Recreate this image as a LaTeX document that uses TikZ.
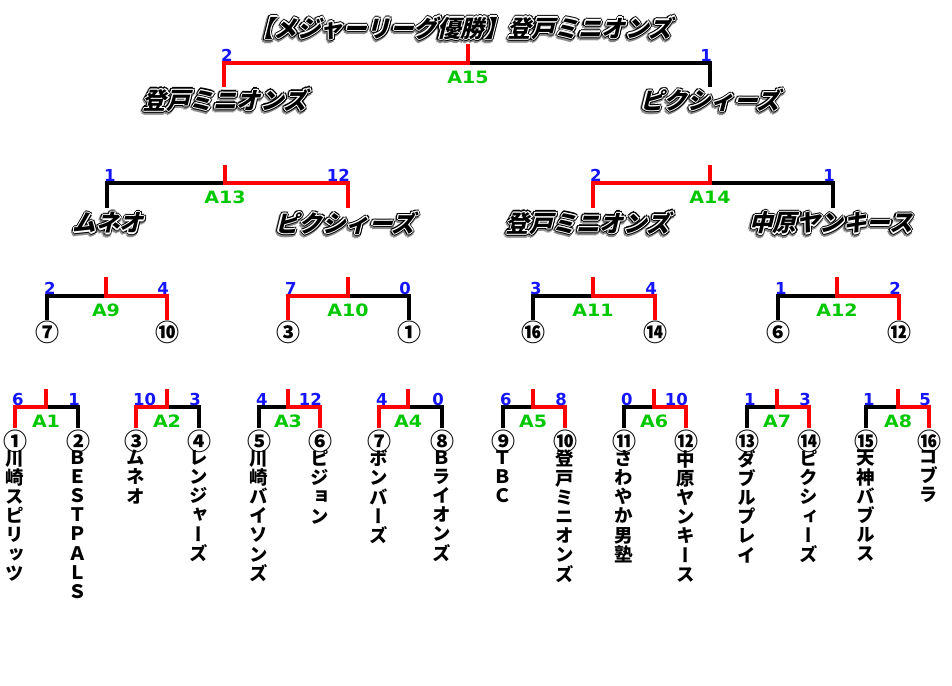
\documentclass[tikz,border=0pt]{standalone}
\usepackage{fontspec}
\usepackage{graphicx}
\newfontfamily\jpfancy[FakeSlant=0.25]{Noto Sans CJK JP}
\newfontfamily\jpv[RawFeature=+vert]{Noto Sans CJK JP}
\newfontfamily\jpc{Noto Sans CJK JP}
\newfontfamily\dvb{DejaVu Sans}
\definecolor{wred}{RGB}{255,0,0}
\definecolor{sblue}{RGB}{20,20,255}
\definecolor{lgreen}{RGB}{0,200,0}
\definecolor{shade}{RGB}{140,140,140}
\newcommand\cpx[3]{\rlap{\kern#1pt\raise#2pt\hbox{\color{#3}\copy0}}}
\newcommand\fancy[1]{{\jpfancy\bfseries\fontsize{23.5}{26}\selectfont
 \setbox0\hbox{#1}%
 \cpx{1.8}{-1.6}{shade}\cpx{-3.4}{-1.6}{shade}\cpx{-0.8}{1.0}{shade}\cpx{-0.8}{-4.2}{shade}%
 \cpx{1.0}{0.2}{shade}\cpx{-2.6}{0.2}{shade}\cpx{1.0}{-3.4}{shade}\cpx{-2.6}{-3.4}{shade}%
 \cpx{2.2}{0}{black}\cpx{-2.2}{0}{black}\cpx{0}{2.2}{black}\cpx{0}{-2.2}{black}%
 \cpx{1.55}{1.55}{black}\cpx{-1.55}{1.55}{black}\cpx{1.55}{-1.55}{black}\cpx{-1.55}{-1.55}{black}%
 \cpx{1.1}{0}{white}\cpx{-1.1}{0}{white}\cpx{0}{1.1}{white}\cpx{0}{-1.1}{white}%
 \cpx{0.78}{0.78}{white}\cpx{-0.78}{0.78}{white}\cpx{0.78}{-0.78}{white}\cpx{-0.78}{-0.78}{white}%
 \hbox{\color{black}\copy0}}}
\tikzset{
 win/.style={draw=wred, line width=3.2pt},
 lose/.style={draw=black, line width=3.2pt},
 score/.style={text=sblue, font=\dvb\bfseries\fontsize{16.5}{16.5}\selectfont, inner sep=0pt},
 mlabel/.style={text=lgreen, font=\dvb\bfseries\fontsize{17}{17}\selectfont, inner sep=0pt},
 circ/.style={font=\jpc\bfseries\fontsize{24}{24}\selectfont, inner sep=0pt},
 vname/.style={font=\jpv\bfseries\fontsize{18.5}{19.2}\selectfont, align=center, inner sep=0pt, anchor=north},
 fname/.style={inner sep=0pt}
}
% #1 id, #2 lx, #3 mx, #4 rx, #5 winner (0 left, 1 right), #6 left score, #7 right score, #8 label
\newcommand\bk[8]{%
 \coordinate (#1t) at (#3,\yt);
 \coordinate (#1m) at (#3,\yl);
 \coordinate (#1l) at (#2,\yl);
 \coordinate (#1r) at (#4,\yl);
 \coordinate (#1lb) at (#2,\yb);
 \coordinate (#1rb) at (#4,\yb);
 \ifnum#5=0
  \draw[lose] (#1m) -- (#1r) -- (#1rb);
  \draw[win] (#1t) -- (#1m) -- (#1l) -- (#1lb);
 \else
  \draw[lose] (#1m) -- (#1l) -- (#1lb);
  \draw[win] (#1t) -- (#1m) -- (#1r) -- (#1rb);
 \fi
 \node[score, anchor=base west] (#1sl) at ({#2-3},{\yl-2}) {#6};
 \node[score, anchor=base east] (#1sr) at ({#4+2},{\yl-2}) {#7};
 \node[mlabel] (#1lab) at (#3,{\yl+14.5}) {\scalebox{1.12}[1]{#8}};
}
\begin{document}
\begin{tikzpicture}[x=1pt,y=-1pt]
\path[fill=white,use as bounding box] (0,0) rectangle (952,685);

% title and final
\node[fname] (title) at (461,29) {\fancy{【メジャーリーグ優勝】登戸ミニオンズ}};
\def\yt{44}\def\yl{63}\def\yb{87}
\bk{a15}{224}{468}{710}{0}{2}{1}{A15}
\node[fname] (f1) at (225,101) {\fancy{登戸ミニオンズ}};
\node[fname] (f2) at (710,101) {\fancy{ピクシィーズ}};

% semi-finals
\def\yt{165}\def\yl{183}\def\yb{208}
\bk{a13}{107}{225}{348}{1}{1}{12}{A13}
\bk{a14}{593}{710}{833}{0}{2}{1}{A14}
\node[fname] (s1) at (108,224) {\fancy{ムネオ}};
\node[fname] (s2) at (345,224) {\fancy{ピクシィーズ}};
\node[fname] (s3) at (588,224) {\fancy{登戸ミニオンズ}};
\node[fname] (s4) at (831,224) {\fancy{中原ヤンキース}};

% quarter-finals
\def\yt{277}\def\yl{296}\def\yb{320}
\bk{a9}{47}{106}{167}{1}{2}{4}{A9}
\bk{a10}{288}{348}{409}{0}{7}{0}{A10}
\bk{a11}{533}{593}{655}{1}{3}{4}{A11}
\bk{a12}{778}{837}{899}{1}{1}{2}{A12}
\node[circ] (q1) at (47,332) {⑦};
\node[circ] (q2) at (167,332) {⑩};
\node[circ] (q3) at (288,332) {③};
\node[circ] (q4) at (409,332) {①};
\node[circ] (q5) at (533,332) {⑯};
\node[circ] (q6) at (655,332) {⑭};
\node[circ] (q7) at (778,332) {⑥};
\node[circ] (q8) at (899,332) {⑫};

% first round
\def\yt{389}\def\yl{407}\def\yb{428}
\bk{a1}{15}{46}{78}{0}{6}{1}{A1}
\bk{a2}{136}{167}{199}{0}{10}{3}{A2}
\bk{a3}{259}{288}{320}{1}{4}{12}{A3}
\bk{a4}{379}{408}{442}{0}{4}{0}{A4}
\bk{a5}{503}{533}{565}{1}{6}{8}{A5}
\bk{a6}{624}{654}{686}{1}{0}{10}{A6}
\bk{a7}{747}{777}{809}{1}{1}{3}{A7}
\bk{a8}{866}{898}{929}{1}{1}{5}{A8}

\node[circ] (c1) at (15,441) {①};
\node[circ] (c2) at (78,441) {②};
\node[circ] (c3) at (136,441) {③};
\node[circ] (c4) at (199,441) {④};
\node[circ] (c5) at (259,441) {⑤};
\node[circ] (c6) at (320,441) {⑥};
\node[circ] (c7) at (379,441) {⑦};
\node[circ] (c8) at (442,441) {⑧};
\node[circ] (c9) at (503,441) {⑨};
\node[circ] (c10) at (565,441) {⑩};
\node[circ] (c11) at (624,441) {⑪};
\node[circ] (c12) at (686,441) {⑫};
\node[circ] (c13) at (747,441) {⑬};
\node[circ] (c14) at (809,441) {⑭};
\node[circ] (c15) at (866,441) {⑮};
\node[circ] (c16) at (929,441) {⑯};

\node[vname] (n1) at (15,450) {川\\崎\\ス\\ピ\\リ\\ッ\\ツ};
\node[vname] (n2) at (78,450) {Ｂ\\Ｅ\\Ｓ\\Ｔ\\Ｐ\\Ａ\\Ｌ\\Ｓ};
\node[vname] (n3) at (136,450) {ム\\ネ\\オ};
\node[vname] (n4) at (199,450) {レ\\ン\\ジ\\ャ\\ー\\ズ};
\node[vname] (n5) at (259,450) {川\\崎\\バ\\イ\\ソ\\ン\\ズ};
\node[vname] (n6) at (320,450) {ピ\\ジ\\ョ\\ン};
\node[vname] (n7) at (379,450) {ボ\\ン\\バ\\ー\\ズ};
\node[vname] (n8) at (442,450) {Ｂ\\ラ\\イ\\オ\\ン\\ズ};
\node[vname] (n9) at (503,450) {Ｔ\\Ｂ\\Ｃ};
\node[vname] (n10) at (565,450) {登\\戸\\ミ\\ニ\\オ\\ン\\ズ};
\node[vname] (n11) at (624,450) {さ\\わ\\や\\か\\男\\塾};
\node[vname] (n12) at (686,450) {中\\原\\ヤ\\ン\\キ\\ー\\ス};
\node[vname] (n13) at (747,450) {ダ\\ブ\\ル\\プ\\レ\\イ};
\node[vname] (n14) at (809,450) {ピ\\ク\\シ\\ィ\\ー\\ズ};
\node[vname] (n15) at (866,450) {天\\神\\バ\\ブ\\ル\\ス};
\node[vname] (n16) at (929,450) {コ\\ブ\\ラ};
\end{tikzpicture}
\end{document}
